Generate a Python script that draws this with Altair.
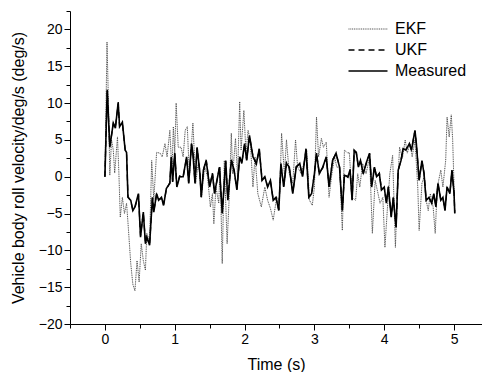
import altair as alt
import pandas as pd

series_names = ["EKF", "UKF", "Measured"]

meas_t = [0, 0.033, 0.07, 0.12, 0.15, 0.19, 0.21, 0.25, 0.29, 0.31,
          0.33, 0.37, 0.40, 0.43, 0.48, 0.51, 0.55, 0.58, 0.60, 0.64,
          0.68, 0.70, 0.74, 0.77, 0.81, 0.84, 0.88, 0.93, 0.95, 0.97,
          1.00, 1.03, 1.07, 1.12, 1.17, 1.20, 1.24, 1.26, 1.29, 1.32,
          1.36, 1.38, 1.41, 1.45, 1.50, 1.54, 1.57, 1.60, 1.64, 1.68,
          1.73, 1.76, 1.81, 1.85, 1.89, 1.93, 1.96, 2.00, 2.03, 2.07,
          2.12, 2.17, 2.21, 2.25, 2.29, 2.33, 2.37, 2.41, 2.45, 2.49,
          2.52, 2.56, 2.60, 2.64, 2.69, 2.74, 2.79, 2.83, 2.88, 2.92,
          2.96, 3.00, 3.03, 3.07, 3.12, 3.17, 3.21, 3.26, 3.31, 3.36,
          3.40, 3.43, 3.48, 3.51, 3.54, 3.57, 3.60, 3.63, 3.66, 3.70,
          3.74, 3.79, 3.82, 3.86, 3.89, 3.93, 3.96, 4.00, 4.03, 4.06,
          4.10, 4.13, 4.17, 4.20, 4.24, 4.27, 4.31, 4.36, 4.39, 4.44,
          4.46, 4.50, 4.54, 4.57, 4.60, 4.64, 4.68, 4.71, 4.74, 4.77,
          4.81, 4.84, 4.87, 4.90, 4.94, 4.97, 5.00, 5.01]

meas_v = [0, 11.8, 4.0, 7.3, 6.6, 10.1, 6.8, 7.4, 3.6, 3.3,
          -2.8, -3.2, -4.6, -4.1, -2.3, -8.2, -4.8, -9.1, -8.2, -9.3,
          -2.8, -4.8, -2.3, -3.2, -2.8, -3.9, -1.6, -0.9, 2.7, -0.7,
          3.2, -1.4, 0, 0, 2.7, -0.9, 4.5, 3.2, -0.9, 4.0,
          0.5, -2.8, 0.9, 2.2, -1.4, 0.4, -2.3, -0.7, 1.3, -5.0,
          2.2, -3.2, 2.2, 0.9, -1.8, 2.7, 1.8, 4.5, 2.2, 5.6,
          2.7, 1.8, 3.8, -0.5, 0, -1.4, -0.5, -3.2, -2.8, -4.6,
          1.8, -1.4, 1.8, 1.3, -2.3, 1.3, 1.8, 0, 3.8, -2.8,
          -2.3, 0.4, 3.2, 0.4, 1.3, 2.7, -1.4, 2.2, 3.2, 1.3,
          -4.6, 0.2, 0, 0.9, -3.2, 3.6, 3.3, 1.3, 2.2, 0.4,
          1.8, 3.2, -1.4, 1.3, 0, 0.4, -1.8, -1.4, -3.6, -1.4,
          -5.5, -2.8, -6.9, 0.9, 2.2, 3.8, 3.6, 4.5, 3.6, 6.3,
          4.5, -0.5, 2.2, 0.4, -3.2, -2.8, -3.6, -2.3, -4.1, -0.9,
          -3.2, -2.8, -4.6, -1.4, -2.3, 0.9, -2.3, -5.0]

ukf_v = [0, 11.6, 4.1, 7.2, 6.7, 9.9, 6.9, 7.3, 3.7, 3.2,
         -2.7, -3.3, -4.5, -4.2, -2.4, -8.0, -4.9, -8.9, -8.3, -9.2,
         -2.9, -4.7, -2.4, -3.1, -2.9, -3.8, -1.7, -0.8, 2.6, -0.6,
         3.1, -1.3, 0.1, -0.1, 2.6, -0.8, 4.4, 3.3, -0.8, 3.9,
         0.6, -2.7, 0.8, 2.3, -1.3, 0.5, -2.2, -0.8, 1.2, -4.9,
         2.1, -3.1, 2.3, 0.8, -1.7, 2.6, 1.9, 4.4, 2.3, 5.5,
         2.8, 1.7, 3.7, -0.4, -0.1, -1.3, -0.6, -3.1, -2.9, -4.5,
         1.7, -1.3, 1.9, 1.2, -2.2, 1.4, 1.7, 0.1, 3.7, -2.7,
         -2.4, 0.5, 3.1, 0.5, 1.2, 2.6, -1.3, 2.3, 3.1, 1.4,
         -4.5, 0.3, -0.1, 1.0, -3.1, 3.5, 3.2, 1.4, 2.1, 0.5,
         1.7, 3.1, -1.3, 1.4, -0.1, 0.5, -1.7, -1.5, -3.5, -1.3,
         -5.4, -2.9, -6.8, 0.8, 2.3, 3.7, 3.7, 4.4, 3.7, 6.2,
         4.4, -0.4, 2.1, 0.5, -3.1, -2.9, -3.5, -2.4, -4.0, -1.0,
         -3.1, -2.9, -4.5, -1.5, -2.2, 0.8, -2.2, -4.9]

ekf_t = [0, 0.03, 0.05, 0.07, 0.095, 0.12, 0.14, 0.18, 0.20, 0.22,
         0.25, 0.28, 0.31, 0.33, 0.37, 0.40, 0.43, 0.46, 0.49, 0.52,
         0.55, 0.58, 0.60, 0.64, 0.67, 0.70, 0.74, 0.79, 0.82, 0.86,
         0.89, 0.93, 0.96, 0.98, 1.00, 1.02, 1.05, 1.09, 1.12, 1.15,
         1.18, 1.21, 1.26, 1.30, 1.34, 1.38, 1.43, 1.47, 1.51, 1.54,
         1.56, 1.59, 1.63, 1.65, 1.68, 1.71, 1.75, 1.78, 1.81, 1.83,
         1.87, 1.90, 1.93, 1.95, 1.99, 2.02, 2.05, 2.08, 2.12, 2.15,
         2.19, 2.24, 2.29, 2.33, 2.37, 2.41, 2.46, 2.50, 2.53, 2.57,
         2.60, 2.64, 2.69, 2.73, 2.76, 2.81, 2.86, 2.89, 2.93, 2.97,
         3.00, 3.03, 3.06, 3.10, 3.13, 3.17, 3.21, 3.25, 3.29, 3.32,
         3.36, 3.40, 3.43, 3.48, 3.50, 3.54, 3.59, 3.62, 3.65, 3.69,
         3.74, 3.79, 3.83, 3.87, 3.90, 3.94, 3.98, 4.01, 4.05, 4.08,
         4.12, 4.16, 4.19, 4.22, 4.26, 4.30, 4.33, 4.37, 4.40, 4.44,
         4.48, 4.50, 4.54, 4.57, 4.60, 4.63, 4.66, 4.70, 4.73, 4.76,
         4.81, 4.84, 4.88, 4.90, 4.93, 4.96, 4.98, 5.01]

ekf_v = [0, 18.3, 10.4, 0.2, 5.0, 3.6, 0.5, 5.4, 0.5, -5.5,
         -2.8, -5.0, -3.6, -6.2, -11.8, -14.6, -15.5, -11.4, -14.3, -9.1,
         -11.4, -12.7, -7.7, -8.7, 2.2, -3.2, 3.3, 3.2, 2.7, 4.5,
         2.7, 6.3, 0.5, 6.8, 3.2, 10.0, 4.0, 4.0, 2.7, 6.3,
         6.8, 0, 7.3, -0.9, 2.2, -2.8, 1.3, 0, -4.1, -2.3,
         -6.4, -1.4, -3.6, 1.3, -11.8, 2.2, -9.1, -2.8, 5.9, 0.4,
         5.2, 0, 10.2, 3.6, 9.0, 3.2, 6.3, 5.0, -1.4, 2.7,
         -2.3, -4.1, -1.4, -3.2, -4.3, -5.9, -2.8, -3.2, 5.9, 0.4,
         5.0, 0.4, -0.9, 5.0, 1.3, 0.4, 2.2, 3.6, -3.2, -3.9,
         -1.4, 8.1, 2.7, 5.2, 4.0, 4.7, -2.8, 0.4, 2.7, 1.3,
         1.3, -7.3, 3.6, 3.2, 3.3, -2.8, -3.2, 0.4, -1.4, 1.8,
         0.4, 2.7, -7.7, -0.5, -1.8, -3.6, -2.8, -9.6, -3.6, 0.4,
         2.9, -9.6, -1.4, 4.0, 2.5, 5.0, 3.2, 4.5, 2.7, 5.0,
         -1.4, -7.3, -0.9, 0, -3.2, -4.6, -2.3, -4.1, -7.7, -1.4,
         0.9, -1.4, 2.2, 8.1, 5.4, 8.4, 5.0, -4.6]

x_ticks = [-0.5, 0, 0.5, 1, 1.5, 2, 2.5, 3, 3.5, 4, 4.5, 5]
y_ticks = [-20, -17.5, -15, -12.5, -10, -7.5, -5, -2.5, 0, 2.5, 5, 7.5,
           10, 12.5, 15, 17.5, 20, 22.5]

rows = []
for t, v in zip(ekf_t, ekf_v):
    rows.append({"t": t, "v": v, "series": "EKF", "o": 0})
for t, v in zip(meas_t, meas_v):
    rows.append({"t": t, "v": v, "series": "Measured", "o": 2})
for t, v in zip(meas_t, ukf_v):
    rows.append({"t": t, "v": v, "series": "UKF", "o": 1})
df = pd.DataFrame(rows)

FONT = "Liberation Sans"

chart = alt.Chart(df).mark_line(interpolate="linear").encode(
    x=alt.X("t:Q", title="Time (s)",
            scale=alt.Scale(domain=[-0.5, 5.4], nice=False, zero=False),
            axis=alt.Axis(values=x_ticks,
                          labelExpr="datum.value % 1 == 0 ? format(datum.value, 'd') : ''",
                          tickSize={"condition": {"test": "datum.value % 1 == 0", "value": 6}, "value": 4},
                          titlePadding=10)),
    y=alt.Y("v:Q", title="Vehicle body roll velocity/deg/s (deg/s)",
            scale=alt.Scale(domain=[-20, 22.5], nice=False, zero=False),
            axis=alt.Axis(values=y_ticks,
                          labelExpr="datum.value % 5 == 0 ? format(datum.value, 'd') : ''",
                          tickSize={"condition": {"test": "datum.value % 5 == 0", "value": 6}, "value": 4},
                          titlePadding=12)),
    color=alt.Color("series:N", sort=series_names,
                    scale=alt.Scale(domain=series_names, range=["#4a4a4a", "#000000", "#000000"]),
                    legend=alt.Legend(title=None, orient="none", legendX=290, legendY=10,
                                      symbolType="M-3,0H3", symbolSize=169,
                                      symbolStrokeWidth=1.3, labelOffset=19,
                                      labelFontSize=16, labelFont=FONT, labelColor="black",
                                      rowPadding=5, padding=0)),
    strokeDash=alt.StrokeDash("series:N", sort=series_names,
                              scale=alt.Scale(domain=series_names, range=[[1, 0.8], [6, 4], [1, 0]])),
    strokeWidth=alt.StrokeWidth("series:N",
                                scale=alt.Scale(domain=series_names, range=[1.0, 1.6, 1.6]),
                                legend=None),
    order=alt.Order("o:Q"),
    detail="series:N",
).properties(
    width=412, height=313,
    padding={"left": 2, "top": 2, "right": 0, "bottom": 0},
).configure_view(stroke=None).configure_axis(
    grid=False, domainColor="black", tickColor="black", labelColor="black",
    titleColor="black", labelFont=FONT, titleFont=FONT, labelFontSize=14,
    titleFontSize=16, titleFontWeight="normal", domainWidth=1, tickWidth=1,
    labelPadding=2,
)

chart.save("out.html", embed_options={"renderer": "svg", "actions": False})
